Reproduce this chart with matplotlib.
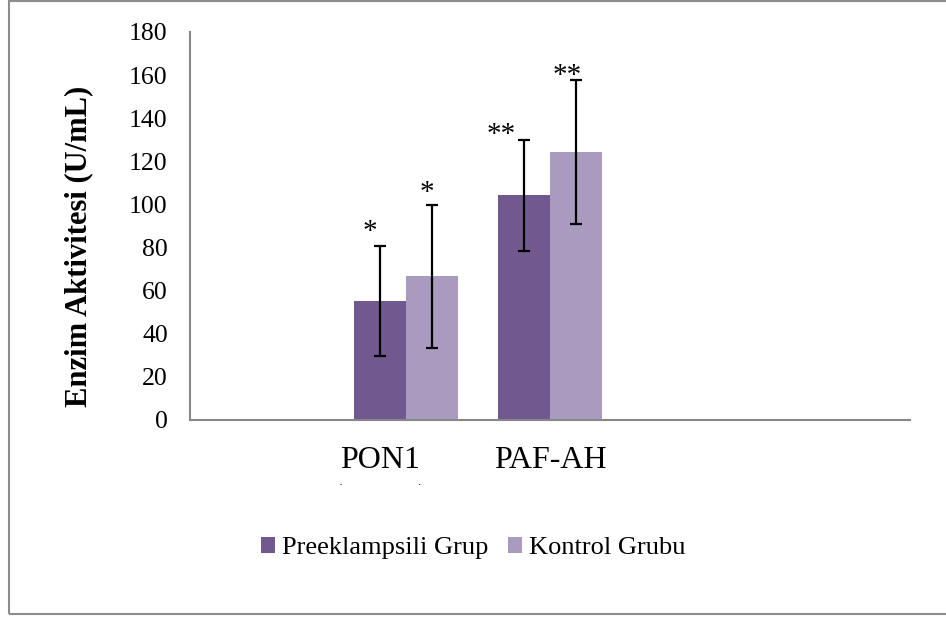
import matplotlib
matplotlib.use("Agg")
import matplotlib.pyplot as plt
import numpy as np
from matplotlib.patches import Rectangle
from matplotlib.transforms import Bbox

plt.rcParams['font.family'] = ['Liberation Serif', 'DejaVu Serif']

# ---- data ----
categories = ["", "PON1", "PAF-AH", "", ""]
series_names = ["Preeklampsili Grup", "Kontrol Grubu"]
preek_vals = [0, 55.2, 104.2, 0, 0]
preek_err = [0, 25.5, 25.6, 0, 0]
kontrol_vals = [0, 66.6, 124.2, 0, 0]
kontrol_err = [0, 33.3, 33.4, 0, 0]
sig_labels_preek = ["", "*", "**", "", ""]
sig_labels_kontrol = ["", "*", "**", "", ""]
yticks = [0, 20, 40, 60, 80, 100, 120, 140, 160, 180]
ylabel = "Enzim Aktivitesi (U/mL)"
sub_label_pon1 = "(U/mL)"

# ---- style ----
W, H, DPI = 946, 617, 100
c_dark = "#71598F"
c_light = "#A99BBF"
spine_c = "#878787"

fig = plt.figure(figsize=(W / DPI, H / DPI), dpi=DPI)
ax = fig.add_axes([190 / W, (H - 420) / H, 720 / W, 388 / H])

x = np.arange(len(categories))
bw = 0.361
has = np.array([v > 0 for v in preek_vals])

ax.bar(x[has] - bw / 2, np.array(preek_vals)[has], bw, color=c_dark,
       edgecolor="none", label=series_names[0], zorder=2)
ax.bar(x[has] + bw / 2, np.array(kontrol_vals)[has], bw, color=c_light,
       edgecolor="none", label=series_names[1], zorder=2)
ax.errorbar(x[has] - bw / 2, np.array(preek_vals)[has], yerr=np.array(preek_err)[has],
            fmt="none", ecolor="black", elinewidth=1.6, capsize=4, capthick=1.6, zorder=3)
ax.errorbar(x[has] + bw / 2, np.array(kontrol_vals)[has], yerr=np.array(kontrol_err)[has],
            fmt="none", ecolor="black", elinewidth=1.6, capsize=4, capthick=1.6, zorder=3)

# significance markers
offs_p = {1: (-10, 7), 2: (-23, -2)}
offs_k = {1: (-5, 5), 2: (-9, -3)}
for i in range(len(categories)):
    if sig_labels_preek[i]:
        dx, dy = offs_p[i]
        ax.annotate(sig_labels_preek[i], (x[i] - bw / 2, preek_vals[i] + preek_err[i]),
                    xytext=(dx, dy), textcoords="offset pixels",
                    ha="center", va="baseline", fontsize=21)
    if sig_labels_kontrol[i]:
        dx, dy = offs_k[i]
        ax.annotate(sig_labels_kontrol[i], (x[i] + bw / 2, kontrol_vals[i] + kontrol_err[i]),
                    xytext=(dx, dy), textcoords="offset pixels",
                    ha="center", va="baseline", fontsize=21)

ax.set_xlim(-0.5, len(categories) - 0.5)
ax.set_ylim(0, 180)
ax.set_yticks(yticks)
ax.set_yticklabels([str(t) for t in yticks], fontsize=18.5)
ax.tick_params(axis="y", length=0, pad=16)
ax.set_xticks([])
for s in ["top", "right"]:
    ax.spines[s].set_visible(False)
for s in ["left", "bottom"]:
    ax.spines[s].set_color(spine_c)
    ax.spines[s].set_linewidth(1.5)

# category labels
label_dx = [0, -26, 0, 0, 0]
for i, lab in enumerate(categories):
    if lab:
        ax.annotate(lab, (x[i], 0), xytext=(label_dx[i], -48), textcoords="offset pixels",
                    ha="center", va="baseline", fontsize=23, annotation_clip=False)

# clipped second line of PON1 label
t2 = ax.annotate(sub_label_pon1, (x[1], 0), xytext=(label_dx[1], -85), textcoords="offset pixels",
                 ha="center", va="baseline", fontsize=23, annotation_clip=False)
t2.set_clip_box(Bbox.from_extents(0, H - 484.5, W, H))
t2.set_clip_on(True)

fig.text(79 / W, 1 - 246 / H, ylabel, rotation=90, ha="center", va="center",
         fontsize=22, fontweight="bold")

fig.legend(loc="center", bbox_to_anchor=(473 / W, 1 - 548 / H), ncol=2, frameon=False,
           fontsize=19, handlelength=0.55, handleheight=0.55, handletextpad=0.25,
           columnspacing=0.75)

fig.patches.append(Rectangle((8.5 / W, 1 - 614 / H), 1.2, (613) / H, transform=fig.transFigure,
                             fill=False, edgecolor="#8C8C8C", linewidth=1.5))

fig.savefig("out.png", dpi=DPI)
